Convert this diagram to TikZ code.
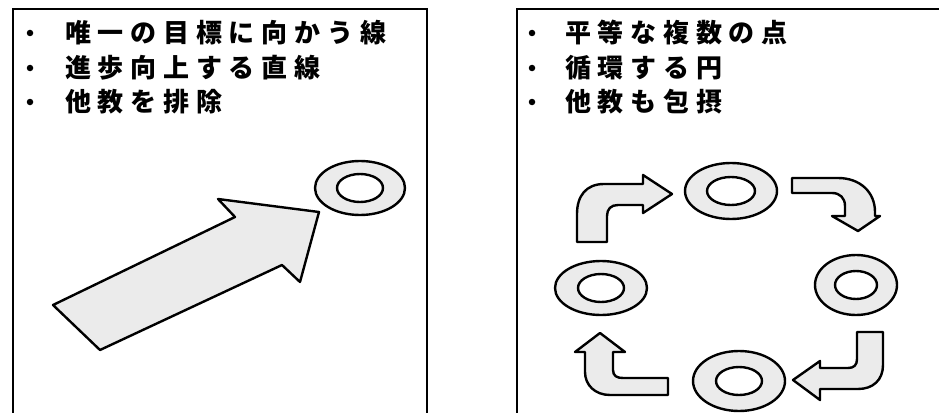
\documentclass[tikz,border=0pt]{standalone}
\usepackage{fontspec}
\newfontfamily\cjk{Noto Sans CJK JP}[LetterSpace=26]
\begin{document}
\begin{tikzpicture}[x=1pt,y=-1pt,
  frame/.style={line width=1.6pt, draw=black},
  shapefill/.style={draw=black, line width=2.4pt, line join=round, fill=black!8},
  ring/.style={draw=black, line width=2.4pt, fill=black!8, even odd rule},
  label/.style={anchor=west, inner sep=0pt, font=\cjk\bfseries\fontsize{26}{26}\selectfont},
  bullet/.style={circle, fill=black, inner sep=0pt, minimum size=6.5pt}]
\useasboundingbox (0,0) rectangle (939,412);
% frames
\draw[frame] (13,413) -- (13,9) -- (427,9) -- (427,413);
\draw[frame] (517,413) -- (517,9) -- (940,9);
% left texts
\node[bullet] (lb1) at (30,33) {};
\node[bullet] (lb2) at (30,68) {};
\node[bullet] (lb3) at (30,102) {};
\node[label] (lt1) at (65,33) {唯一の目標に向かう線};
\node[label] (lt2) at (65,68) {進歩向上する直線};
\node[label] (lt3) at (65,102) {他教を排除};
% right texts
\node[bullet] (rb1) at (532,33) {};
\node[bullet] (rb2) at (532,68) {};
\node[bullet] (rb3) at (532,102) {};
\node[label] (rt1) at (565,33) {平等な複数の点};
\node[label] (rt2) at (565,68) {循環する円};
\node[label] (rt3) at (565,102) {他教も包摂};
% left big arrow
\draw[shapefill] (53,305) -- (235,217) -- (218,199) -- (319,212) -- (300,282) -- (282,265) -- (100,350) -- cycle;
% rings
\draw[ring] (360,188) ellipse [x radius=45, y radius=27] (360,188) ellipse [x radius=23, y radius=14];
\draw[ring] (731,191) ellipse [x radius=46, y radius=28] (731,191) ellipse [x radius=24, y radius=14];
\draw[ring] (856,285) ellipse [x radius=41, y radius=30] (856,285) ellipse [x radius=21, y radius=14];
\draw[ring] (601,288) ellipse [x radius=46, y radius=27] (601,288) ellipse [x radius=23, y radius=14];
\draw[ring] (739,381) ellipse [x radius=46, y radius=30] (739,381) ellipse [x radius=23, y radius=14];
% bent arrows
\draw[shapefill] (577,242) -- (577,214) .. controls (577,196) and (586,184) .. (604,184) -- (643,184) -- (643,175) -- (672,194) -- (643,213) -- (643,205) -- (618,205) .. controls (611,205) and (607,209) .. (607,216) -- (607,242) -- cycle;
\draw[shapefill] (792,178) -- (838,178) .. controls (860,178) and (875,192) .. (875,212) -- (875,216) -- (880,216) -- (858,231) -- (832,216) -- (845,216) -- (845,206) .. controls (845,198) and (840,193) .. (832,193) -- (792,193) -- cycle;
\draw[shapefill] (857,332) -- (883,332) -- (883,365) .. controls (883,380) and (873,389) .. (858,389) -- (820,389) -- (820,400) -- (793,380) -- (820,361) -- (820,368) -- (848,368) .. controls (854,368) and (857,365) .. (857,359) -- cycle;
\draw[shapefill] (600,333) -- (625,352) -- (613,352) -- (613,370) .. controls (613,376) and (617,378) .. (623,378) -- (668,378) -- (668,395) -- (610,395) .. controls (595,395) and (585,385) .. (585,372) -- (585,352) -- (575,352) -- cycle;
\end{tikzpicture}
\end{document}
